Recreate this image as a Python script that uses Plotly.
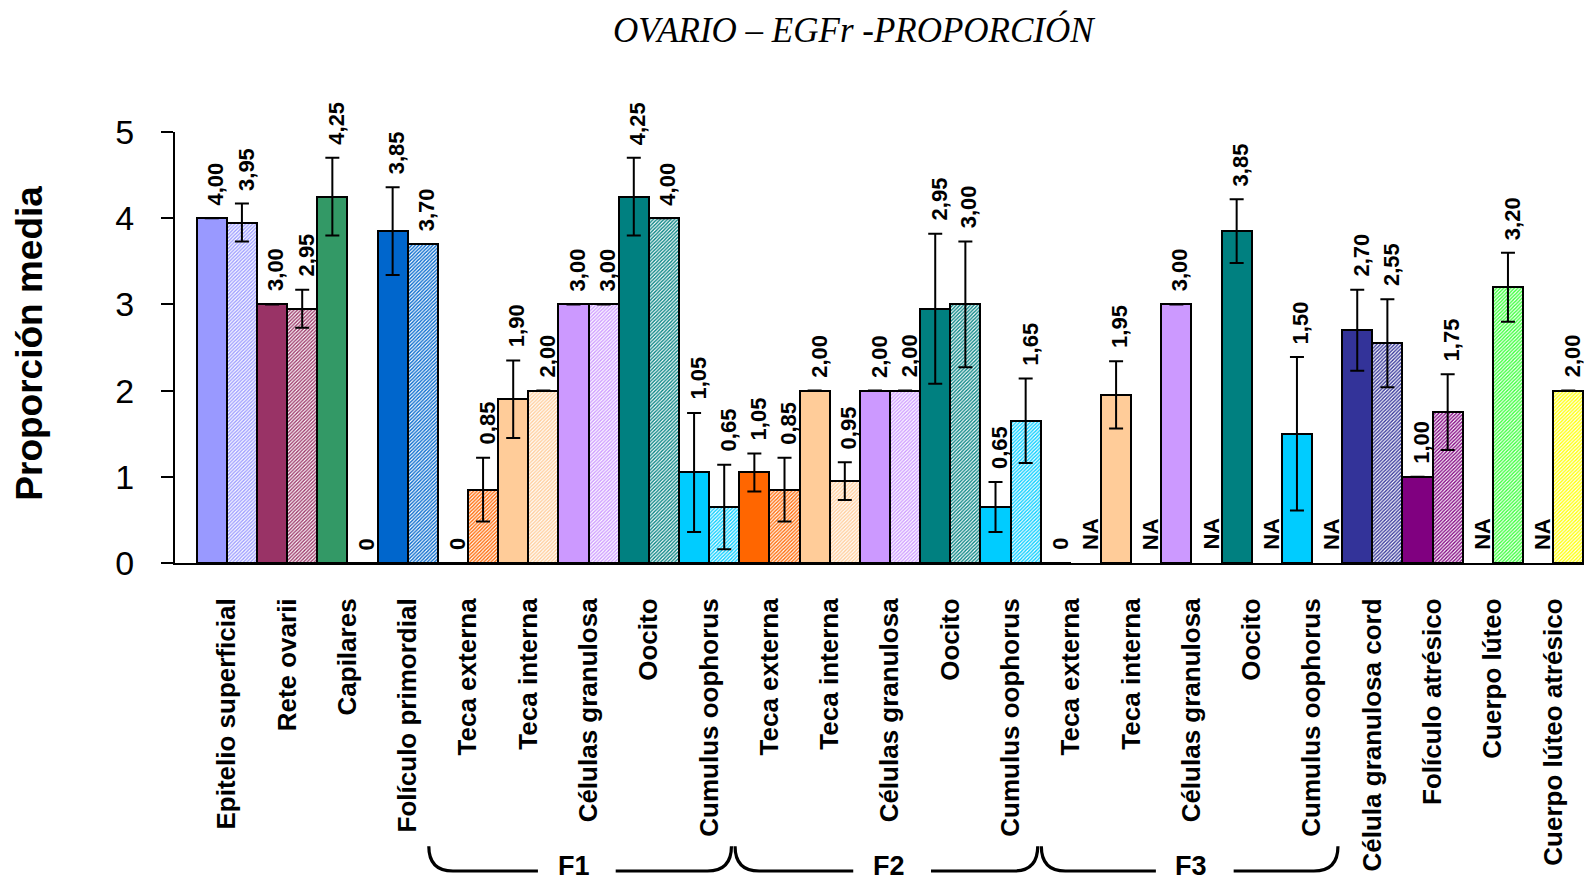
import plotly.graph_objects as go

# ---------------- data ----------------
categories = [
    "Epitelio superficial", "Rete ovarii", "Capilares", "Folículo primordial",
    "Teca externa", "Teca interna", "Células granulosa", "Oocito", "Cumulus oophorus",   # F1
    "Teca externa", "Teca interna", "Células granulosa", "Oocito", "Cumulus oophorus",   # F2
    "Teca externa", "Teca interna", "Células granulosa", "Oocito", "Cumulus oophorus",   # F3
    "Célula granulosa cord", "Folículo atrésico", "Cuerpo lúteo", "Cuerpo lúteo atrésico",
]

solid_values = [4.00, 3.00, 4.25, 3.85,
                0, 1.90, 3.00, 4.25, 1.05,
                1.05, 2.00, 2.00, 2.95, 0.65,
                0, 1.95, 3.00, 3.85, 1.50,
                2.70, 1.00, None, None]
solid_errors = [0, 0, 0.45, 0.51,
                0, 0.45, 0, 0.45, 0.69,
                0.22, 0, 0, 0.87, 0.29,
                0, 0.39, 0, 0.37, 0.89,
                0.47, 0, None, None]

hatched_values = [3.95, 2.95, 0, 3.70,
                  0.85, 2.00, 3.00, 4.00, 0.65,
                  0.85, 0.95, 2.00, 3.00, 1.65,
                  None, None, None, None, None,
                  2.55, 1.75, 3.20, 2.00]
hatched_errors = [0.22, 0.22, 0, 0,
                  0.37, 0, 0, 0, 0.49,
                  0.37, 0.22, 0, 0.73, 0.49,
                  None, None, None, None, None,
                  0.51, 0.44, 0.40, 0]

colors = ["#9999FF", "#993366", "#339966", "#0066CC",
          "#FF6600", "#FFCC99", "#CC99FF", "#008080", "#00CCFF",
          "#FF6600", "#FFCC99", "#CC99FF", "#008080", "#00CCFF",
          "#FF6600", "#FFCC99", "#CC99FF", "#008080", "#00CCFF",
          "#333399", "#800080", "#33FF33", "#FFFF00"]

# follicle groups under the axis
group_labels = ["F1", "F2", "F3"]
bracket_spans = [(3.35, 8.37), (8.43, 13.45), (13.51, 18.43)]
group_label_pos = [5.75, 10.98, 16.0]

title_text = "OVARIO – EGFr -PROPORCIÓN"
y_title = "Proporción media"

# ---------------- figure ----------------
SANS = "Liberation Sans, Arial, sans-serif"
idx = list(range(len(categories)))

fig = go.Figure()
fig.add_trace(go.Bar(
    x=idx, y=solid_values, offsetgroup="solid",
    marker=dict(color=colors, line=dict(color="black", width=2)),
    error_y=dict(type="data", array=solid_errors, visible=True,
                 color="black", thickness=2, width=7),
    hoverinfo="skip",
))
fig.add_trace(go.Bar(
    x=idx, y=hatched_values, offsetgroup="hatched",
    marker=dict(color=colors, line=dict(color="black", width=2),
                pattern=dict(shape="/", fgcolor=colors, bgcolor="white",
                             size=2.5, solidity=0.55, fillmode="replace")),
    error_y=dict(type="data", array=hatched_errors, visible=True,
                 color="black", thickness=2, width=7),
    hoverinfo="skip",
))


def fmt(v):
    if v is None:
        return "NA"
    if v == 0:
        return "0"
    return f"{v:.2f}".replace(".", ",")


annotations = []
for vals, errs, off in ((solid_values, solid_errors, -0.25), (hatched_values, hatched_errors, 0.25)):
    for i, (v, e) in enumerate(zip(vals, errs)):
        top = (v or 0) + (e or 0)
        annotations.append(dict(
            x=i + off, y=top, xref="x", yref="y", text=fmt(v),
            showarrow=False, textangle=-90, xanchor="center", yanchor="bottom",
            yshift=11, xshift=4,
            font=dict(family=SANS, size=22, color="black", weight="bold"),
        ))

# y-axis title
annotations.append(dict(
    x=-0.1027, y=0.51, xref="paper", yref="paper", text=y_title,
    showarrow=False, textangle=-90, xanchor="center", yanchor="middle",
    font=dict(family=SANS, size=37, color="black", weight="bold"),
))

# group brackets
shapes = []
y_top, y_bot = -0.657, -0.7146
for lab, (x0, x1), lp in zip(group_labels, bracket_spans, group_label_pos):
    rx = 0.40
    gl, gr = lp - 0.59, lp + 0.70
    path = (f"M {x0},{y_top} Q {x0},{y_bot} {x0 + rx},{y_bot} L {gl},{y_bot} "
            f"M {gr},{y_bot} L {x1 - rx},{y_bot} Q {x1},{y_bot} {x1},{y_top}")
    shapes.append(dict(type="path", path=path, xref="x", yref="paper",
                       line=dict(color="black", width=3.2)))
    annotations.append(dict(
        x=lp, y=-0.703, xref="x", yref="paper", text=lab, showarrow=False,
        xanchor="center", yanchor="middle",
        font=dict(family=SANS, size=27, color="black", weight="bold"),
    ))

# the page body adds an 8px offset, so the margins are shifted by 8px
fig.update_layout(
    width=1592, height=880,
    margin=dict(l=167, r=8, t=124, b=325, autoexpand=False),
    paper_bgcolor="white", plot_bgcolor="white",
    barmode="group", bargap=0, bargroupgap=0,
    showlegend=False,
    title=dict(text=title_text, x=0.531, xanchor="center", y=0.975, yanchor="middle",
               font=dict(family="Liberation Serif, Times New Roman, serif", size=35,
                         color="black", style="italic")),
    xaxis=dict(
        range=[-0.86, 22.644], tickmode="array", tickvals=idx, ticktext=categories,
        tickangle=-90, ticks="", showline=True, linecolor="black", linewidth=2,
        showgrid=False, zeroline=False, ticklabelstandoff=23, automargin=False,
        tickfont=dict(family=SANS, size=26, color="black", weight="bold"),
    ),
    yaxis=dict(
        range=[0, 5], tickmode="array", tickvals=[0, 1, 2, 3, 4, 5],
        ticks="outside", ticklen=12, tickwidth=2, tickcolor="black",
        showline=True, linecolor="black", linewidth=2, automargin=False,
        showgrid=False, zeroline=False, ticklabelstandoff=20,
        tickfont=dict(family=SANS, size=34, color="black"),
    ),
    annotations=annotations,
    shapes=shapes,
)

fig.write_html("out.html")
